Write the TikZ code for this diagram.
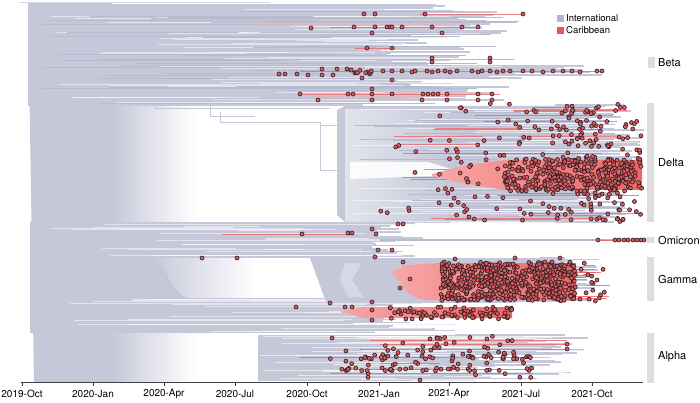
\documentclass[tikz,border=0pt]{standalone}
\usepackage{fontspec}
\setmainfont{TeX Gyre Heros}
\definecolor{tg}{RGB}{198,200,217}
\definecolor{tgd}{RGB}{184,186,206}
\definecolor{tgl}{RGB}{214,216,228}
\definecolor{cr}{RGB}{240,100,100}
\definecolor{lr}{RGB}{247,168,168}
\definecolor{dotf}{RGB}{222,92,95}
\definecolor{dotl}{RGB}{50,32,38}
\definecolor{barg}{RGB}{221,221,221}
\definecolor{legg}{RGB}{178,181,206}
\definecolor{legr}{RGB}{238,84,84}
\tikzset{
  dotst/.style={fill=dotf,draw=dotl,line width=0.65pt},
  redln/.style={draw=cr,line width=0.9pt,opacity=0.8},
  thinln/.style={draw=tg,line width=0.9pt},
  axl/.style={font=\fontsize{10}{12}\selectfont,inner sep=0pt,anchor=center},
  cladel/.style={font=\fontsize{11}{13}\selectfont,inner sep=0pt,anchor=west},
  legl/.style={font=\fontsize{9.5}{11}\selectfont,inner sep=0pt,anchor=west},
  cladebar/.style={fill=barg,draw=none},
}
\newcommand\myrdots[5]{%
  \foreach \i in {1,...,#5}{%
    \pgfmathsetmacro\xa{#1+rnd*(#2-#1)}%
    \pgfmathsetmacro\ya{#3+rnd*(#4-#3)}%
    \draw[dotst] (\xa,\ya) circle (2pt);}}
\newcommand\myrows[6]{%
  \pgfmathtruncatemacro\nrows{(#5-#4)/1.5}%
  \foreach \k in {0,...,\nrows}{%
    \pgfmathsetmacro\yy{#4+1.5*\k}%
    \pgfmathsetmacro\xe{#2+rnd*(#3-#2)}%
    \fill[#6] (#1,\yy) rectangle (\xe,\yy+1.6);}}
\newcommand\mystreaks[6]{%
  \foreach \i in {1,...,#5}{%
    \pgfmathsetmacro\ya{#3+rnd*(#4-#3)}%
    \pgfmathsetmacro\xa{#1+rnd*(#2-#1)*0.6}%
    \pgfmathsetmacro\xb{\xa+(#2-\xa)*(0.3+0.7*rnd)}%
    \draw[#6] (\xa,\ya) -- (\xb,\ya);}}
\begin{document}
\begin{tikzpicture}[x=1pt,y=-1pt]
\pgfmathsetseed{12345}
\useasboundingbox (0,0) rectangle (700,403);
\fill[white] (0,0) rectangle (700,403);
% trunk and left gradient
\fill[tg] (28,3) -- (112,3) -- (112,382) -- (34,382) -- cycle;
\shade[left color=tg,right color=white] (111.5,100) rectangle (196,382);
\shade[left color=tg,right color=white] (150,258) rectangle (255,298);
\draw[tgl,line width=1.2pt] (19,2.5) -- (270,2.5);
% top band
\fill[tg] (28,4) rectangle (335,106);
\myrows{334}{380}{470}{4}{10}{tg}
\myrows{334}{420}{500}{10}{20}{tg}
\myrows{334}{440}{512}{20}{32}{tg}
\myrows{334}{370}{450}{32}{42}{tg}
\myrows{334}{380}{470}{42}{55}{tg}
\myrows{334}{390}{460}{55}{65}{tg}
\myrows{334}{470}{615}{65}{78}{tg}
\myrows{334}{380}{470}{78}{86}{tg}
\myrows{334}{420}{510}{86}{100}{tg}
\myrows{334}{340}{380}{100}{105}{tg}
\mystreaks{40}{520}{5}{104}{45}{white,opacity=.5,line width=0.9pt}
\mystreaks{40}{520}{5}{104}{35}{tgd,line width=0.8pt}
\mystreaks{250}{520}{8}{100}{5}{lr,opacity=.6,line width=0.7pt}
% ancestry lines of Delta
\draw[thinln] (155,104) -- (155,108) -- (215,108);
\draw[thinln] (210,106) -- (210,116) -- (255,116);
\draw[thinln] (210,108) -- (330,108);
\draw[thinln] (220,112) -- (220,122) -- (320,122) -- (320,170) -- (338,170);
\draw[thinln] (320,125) -- (338,125);
% Delta clade
\fill[tg] (337,110) -- (345,106) -- (560,106) -- (560,222) -- (345,222) -- (337,215) -- cycle;
\myrows{555}{565}{645}{104}{221}{tg}
\shade[left color=tgl!70!white,right color=tg] (345,110) rectangle (450,222);
\mystreaks{345}{640}{106}{222}{50}{white,opacity=.55,line width=0.9pt}
\mystreaks{345}{640}{106}{222}{30}{tgd,line width=0.8pt}
\fill[white,opacity=.9] (350,162) -- (428,162) -- (448,168) -- (460,175) -- (350,179) -- cycle;
\mystreaks{380}{645}{104}{222}{22}{redln}
\shade[left color=lr,right color=cr] (432,174) .. controls (465,165) .. (505,160) -- (642,160) -- (642,190) -- (505,190) .. controls (465,184) .. (432,176) -- cycle;
% omicron band
\fill[tg] (30,222) rectangle (362,258);
\myrows{360}{370}{425}{222}{257}{tg}
\mystreaks{40}{420}{223}{257}{20}{white,opacity=.5,line width=0.9pt}
\draw[redln] (222,234) -- (352,234);
\draw[white,line width=1pt] (268,259) -- (320,259);
\draw[tgd,line width=1.1pt] (380,240) -- (645,240);
\draw[redln] (598,240) -- (645,240);
% sigmoid
\fill[tg] (30,257) -- (148,257) .. controls (168,257) and (168,298) .. (192,298) -- (30,298) -- cycle;
% band below gamma
\fill[tg] (30,298) rectangle (345,333);
\myrows{344}{360}{545}{298}{305}{tg}
\myrows{344}{350}{520}{305}{322}{tg}
\myrows{344}{350}{470}{322}{332}{tg}
\mystreaks{40}{540}{299}{332}{20}{white,opacity=.5,line width=0.9pt}
\draw[thinln,draw=white] (233,334) -- (257,334) -- (257,346);
\shade[left color=lr,right color=cr] (340,312) -- (363,307) -- (512,307) -- (512,318) -- (363,318) -- cycle;
% Gamma clade
\fill[tg] (310,258) -- (545,258) -- (545,302) -- (326,302) -- cycle;
\myrows{540}{550}{602}{257}{301}{tg}
\fill[tgl] (345,263) -- (362,263) -- (352,280) -- (364,297) -- (348,297) -- (340,280) -- cycle;
\shade[left color=lr,right color=cr] (392,271) .. controls (405,265) .. (440,263) -- (576,263) -- (576,300) -- (428,300) .. controls (405,299) and (400,280) .. (392,273) -- cycle;
\mystreaks{560}{610}{262}{301}{12}{redln}
% Alpha clade
\fill[tg] (258,335) rectangle (460,381);
\myrows{455}{470}{590}{334}{380}{tg}
\mystreaks{258}{590}{335}{380}{30}{white,opacity=.6,line width=0.9pt}
\draw[redln] (370,340) -- (567,340);
\draw[redln] (380,344) -- (567,344);
\draw[redln] (360,349) -- (567,349);
\draw[redln] (300,357) -- (533,357);
\draw[redln] (380,363) -- (440,363);
\draw[redln] (340,369) -- (533,369);
\draw[redln] (330,373) -- (533,373);
% red lines top
\draw[redln] (420,14) -- (523,14);
\draw[redln] (330,27) -- (480,27);
\draw[redln] (355,48) -- (395,48);
\draw[redln] (300,71) -- (602,71);
\draw[redln] (300,94) -- (500,94);
% dots top region
\foreach \p in {(364,14),(375,14),(425,14),(523,14),(354,27),(375,27),(387,27),(390,27),(392,27),(402,27),(432,27),(462,27),(478,27),(311,28),(372,33),(442,33),(367,48),(392,48),(432,58),(432,62),(490,58),(490,62),(322,69),(337,69),(347,69),(279,74),(285,74),(297,74),(308,75),(322,75),(333,75),(383,71),(392,71),(402,71),(412,72),(415,71),(427,71),(432,72),(438,71),(445,71),(450,72),(457,71),(472,71),(478,72),(482,71),(490,71),(497,72),(503,71),(510,71),(523,71),(532,71),(543,72),(553,71),(563,71),(572,71),(580,72),(597,71),(602,71),(362,78),(392,80),(300,94),(348,94),(353,94),(372,94),(372,89),(392,94),(423,94),(428,94),(433,94),(438,94),(447,94),(478,94),(492,94),(318,100),(372,100),(422,100),(447,100),(478,100),(492,100)}
  {\draw[dotst] \p circle (2pt);}
\myrdots{350}{378}{70}{74}{10}
% Delta dots
\myrdots{505}{642}{159}{191}{260}
\myrdots{430}{642}{103}{222}{150}
\myrdots{560}{642}{103}{222}{110}
\myrdots{380}{450}{125}{215}{14}
% omicron and nearby dots
\foreach \p in {(202,258),(237,258),(302,234),(348,233),(352,233),(372,229),(376,234),(398,224),(403,224),(378,250),(392,250),(598,240),(615,240),(619,240),(624,240),(628,240),(633,240),(637,240),(641,240),(644,240)}
  {\draw[dotst] \p circle (2pt);}
% gamma dots
\myrdots{440}{576}{262}{301}{520}
\myrdots{576}{606}{262}{301}{16}
\foreach \p in {(375,257),(403,262),(455,259),(515,258),(545,262),(552,262),(560,258),(410,279),(400,288)}
  {\draw[dotst] \p circle (2pt);}
% band dots
\myrdots{390}{512}{307}{319}{80}
\foreach \p in {(345,307),(352,307),(372,302),(372,310),(372,320),(296,307),(330,303)}
  {\draw[dotst] \p circle (2pt);}
% alpha dots
\myrdots{330}{535}{336}{378}{70}
\myrdots{340}{533}{356}{359}{30}
\myrdots{330}{533}{368}{371}{30}
\foreach \p in {(567,344),(567,349),(420,380)}
  {\draw[dotst] \p circle (2pt);}
% axis
\draw[black!75,line width=0.7pt] (21,382) -- (643,382);
\foreach \x/\lab [count=\n] in {22/2019-Oct,93/2020-Jan,164/2020-Apr,235/2020-Jul,307/2020-Oct,379/2021-Jan,449/2021-Apr,521/2021-Jul,592/2021-Oct}{
  \draw[black!75,line width=0.7pt] (\x,382) -- (\x,386);
  \node[axl] (tick\n) at (\x,394) {\lab};
}
% clade bars and labels
\fill[cladebar] (648,57) rectangle (655,68);
\node[cladel] (beta) at (658,62.5) {Beta};
\fill[cladebar] (647,103) rectangle (654,222);
\node[cladel] (delta) at (658,163) {Delta};
\fill[cladebar] (647,237) rectangle (654,243);
\node[cladel] (omicron) at (658,240) {Omicron};
\fill[cladebar] (647,257) rectangle (654,301);
\node[cladel] (gamma) at (658,279) {Gamma};
\fill[cladebar] (647,333) rectangle (654,383);
\node[cladel] (alpha) at (658,357) {Alpha};
% legend
\fill[legg] (557,15) rectangle (564,22);
\node[legl] (legint) at (566,18.5) {International};
\fill[legr] (557,27) rectangle (564,34);
\node[legl] (legcar) at (566,30.5) {Caribbean};
\end{tikzpicture}
\end{document}
